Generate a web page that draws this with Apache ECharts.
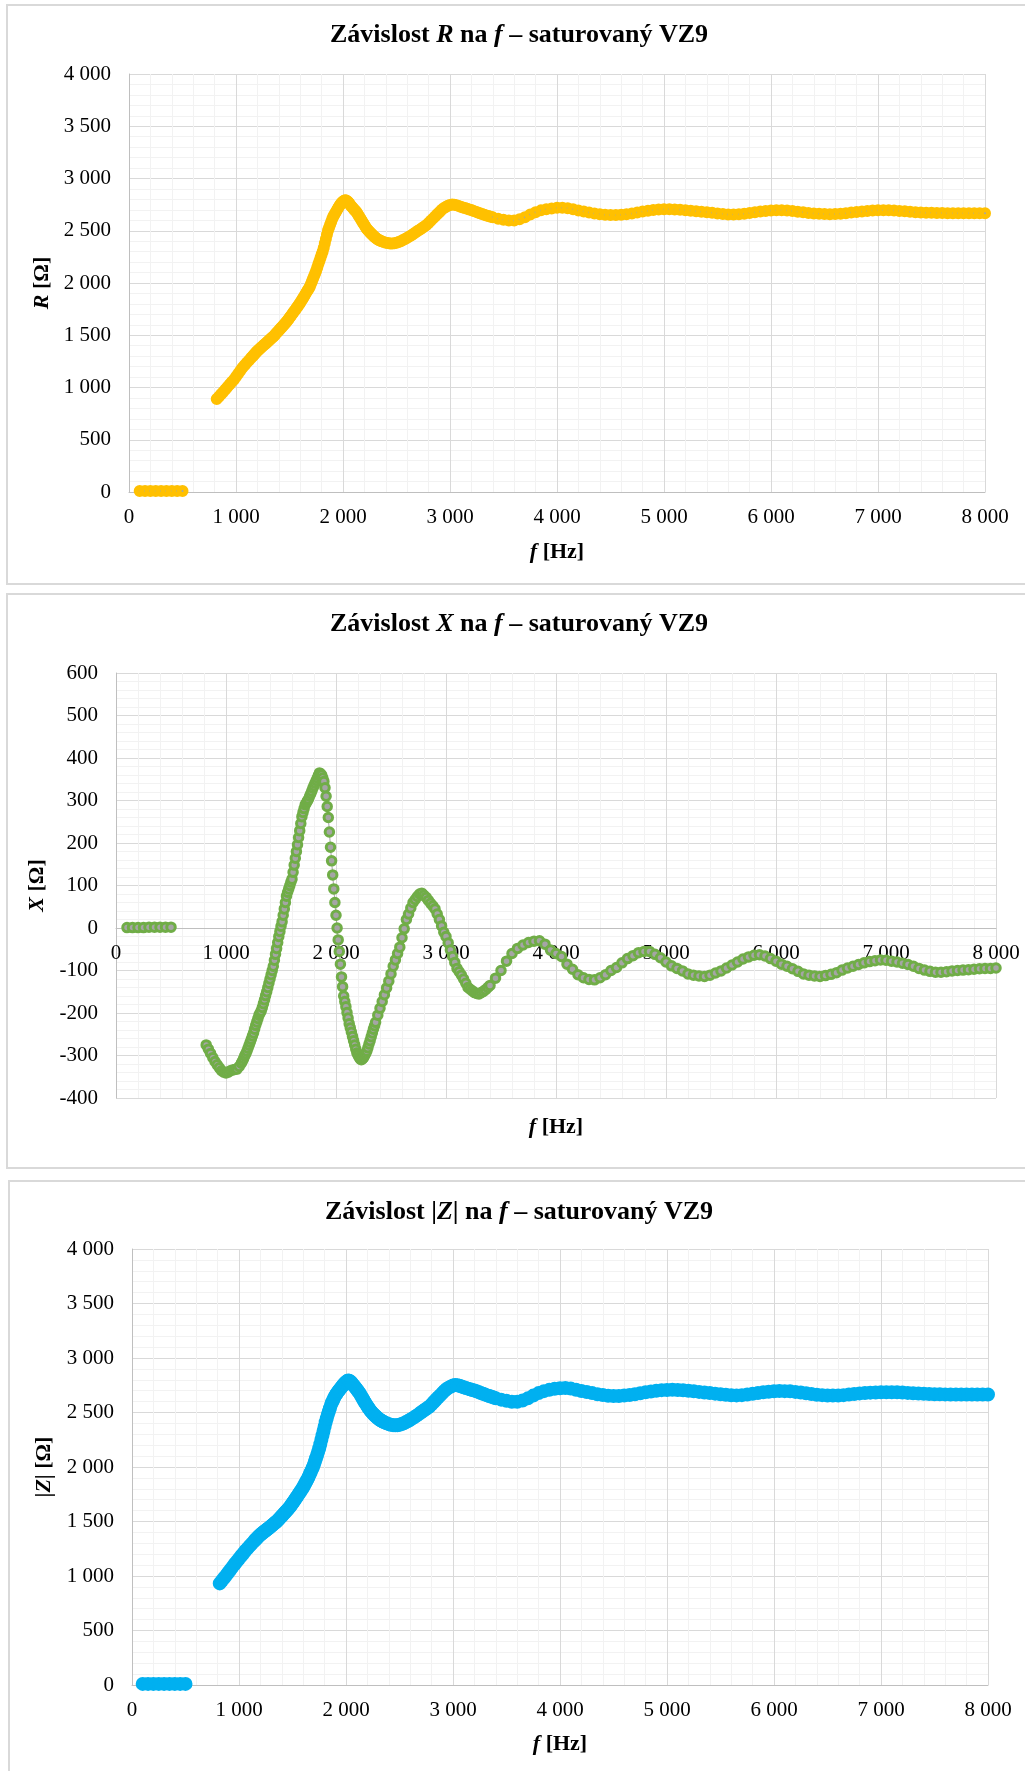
<!DOCTYPE html>
<html>
<head>
<meta charset="utf-8">
<script src="https://cdn.jsdelivr.net/npm/echarts/dist/echarts.min.js"></script>
<style>
html, body { margin: 0; padding: 0; background: #fff; }
#main { width: 1025px; height: 1771px; }
</style>
</head>
<body>
<div id="main"></div>
<script>
// 低频段 (100–500 Hz)
var lowFreq = [100, 150, 200, 250, 300, 350, 400, 450, 500];
var lowR = [10, 10, 10, 10, 10, 10, 10, 10, 10];
var lowX = [1, 1, 1, 1, 2, 2, 2, 2, 2];
var lowZ = [10, 10, 10, 10, 10, 10, 10, 10, 10];

// 主频段 f [Hz]
var freq = [
  820,840,860,880,900,920,940,960,980,1000,1020,1040,1060,1080,1100,1120,1140,
  1150,1160,1170,1180,1190,1200,1210,1220,1230,1240,
  1250,1260,1270,1280,1290,1300,1310,1320,1330,1340,
  1350,1360,1370,1380,1390,1400,1410,1420,1430,1440,
  1450,1460,1470,1480,1490,1500,1510,1520,1530,1540,
  1550,1560,1570,1580,1590,1600,1610,1620,1630,1640,
  1650,1660,1670,1680,1690,1700,1710,1720,1730,1740,
  1750,1760,1770,1780,1790,1800,1810,1820,1830,1840,
  1850,1860,1870,1880,1890,1900,1910,1920,1930,1940,
  1950,1960,1970,1980,1990,2000,2010,2020,2030,2040,
  2050,2060,2070,2080,2090,2100,2110,2120,2130,2140,
  2150,2160,2170,2180,2190,2200,2210,2220,2230,2240,
  2250,2260,2270,2280,2290,2300,2310,2320,2330,2340,
  2350,
  2360,2380,2400,2420,2440,2460,2480,2500,2520,2540,
  2560,2580,2600,2620,2640,2660,2680,2700,2720,2740,
  2760,2780,2800,2820,2840,2860,2880,2900,2920,2940,
  2960,2980,3000,3020,3040,3060,3080,3100,3120,3140,
  3160,3180,3200,3220,3240,3260,3280,3300,3320,3340,
  3360,3380,3400,
  3450,3500,3550,3600,3650,3700,3750,3800,3850,3900,
  3950,4000,4050,4100,4150,4200,4250,4300,4350,4400,
  4450,4500,4550,4600,4650,4700,4750,4800,4850,4900,
  4950,5000,5050,5100,5150,5200,5250,5300,5350,5400,
  5450,5500,5550,5600,5650,5700,5750,5800,5850,5900,
  5950,6000,6050,6100,6150,6200,6250,6300,6350,6400,
  6450,6500,6550,6600,6650,6700,6750,6800,6850,6900,
  6950,7000,7050,7100,7150,7200,7250,7300,7350,7400,
  7450,7500,7550,7600,7650,7700,7750,7800,7850,7900,
  7950,8000
];

// R [Ω]
var rVals = [
  890,912,935,957,980,1004,1028,1052,1075,1103,1132,1160,1190,1213,1236,1259,1282,
  1293,1304,1316,1327,1339,1350,1359,1368,1378,1387,
  1396,1406,1415,1424,1434,1443,1452,1461,1471,1480,
  1488,1500,1511,1523,1534,1546,1557,1569,1580,1592,
  1603,1615,1627,1639,1653,1667,1681,1695,1710,1724,
  1738,1752,1767,1781,1796,1811,1828,1845,1862,1879,
  1896,1913,1930,1947,1964,1990,2016,2042,2068,2094,
  2120,2150,2181,2211,2241,2272,2302,2338,2380,2421,
  2463,2505,2532,2559,2587,2614,2638,2656,2674,2692,
  2710,2728,2745,2758,2770,2780,2788,2793,2790,2783,
  2773,2760,2745,2733,2720,2708,2697,2687,2673,2656,
  2639,2622,2605,2588,2571,2555,2538,2522,2510,2498,
  2487,2476,2466,2456,2446,2437,2428,2421,2415,2409,
  2404,
  2399,2392,2386,2382,2379,2378,2380,2385,2392,2400,
  2411,2421,2433,2446,2458,2471,2485,2499,2513,2526,
  2540,2554,2574,2595,2616,2637,2657,2678,2698,2715,
  2728,2739,2747,2752,2750,2745,2738,2730,2723,2717,
  2710,2704,2698,2690,2683,2675,2668,2660,2653,2647,
  2640,2634,2628,
  2615,2605,2598,2597,2610,2630,2655,2678,2695,2706,
  2714,2719,2720,2716,2706,2694,2685,2675,2665,2657,
  2652,2650,2651,2654,2659,2666,2675,2684,2692,2699,
  2703,2705,2705,2704,2701,2697,2692,2687,2682,2678,
  2672,2666,2660,2656,2655,2658,2663,2670,2677,2684,
  2690,2694,2696,2695,2693,2688,2682,2676,2670,2665,
  2662,2660,2659,2660,2663,2668,2674,2680,2685,2689,
  2693,2695,2696,2695,2693,2690,2686,2682,2678,2675,
  2673,2672,2670,2669,2668,2668,2668,2668,2668,2668,
  2668,2668
];

// X [Ω]
var xVals = [
  -275,-285,-295,-305,-314,-322,-329,-336,-339,-341,-339,-336,-334,-333,-332,-326,-318,
  -313,-307,-301,-296,-290,-283,-276,-269,-262,-254,
  -247,-238,-229,-221,-213,-205,-200,-195,-187,-178,
  -169,-159,-150,-140,-130,-120,-110,-100,-90,-76,
  -62,-48,-34,-20,-8,4,15,30,45,60,
  75,84,92,100,108,115,131,148,164,180,
  196,213,229,246,262,272,281,290,294,299,
  303,310,316,322,329,335,341,347,353,359,
  365,363,360,353,345,330,310,286,260,226,
  190,158,125,92,60,30,0,-28,-55,-85,
  -115,-138,-160,-173,-185,-199,-212,-225,-235,-245,
  -255,-265,-275,-285,-294,-299,-304,-308,-310,-308,
  -305,-300,-295,-290,-282,-273,-265,-256,-247,-238,
  -230,
  -222,-205,-189,-173,-157,-141,-125,-108,-90,-75,
  -60,-45,-23,-2,20,33,47,60,67,74,
  80,82,77,72,65,58,52,45,33,20,
  5,-10,-20,-35,-52,-67,-81,-95,-103,-111,
  -120,-130,-140,-144,-148,-152,-154,-155,-152,-149,
  -145,-140,-135,
  -118,-100,-78,-60,-48,-40,-34,-31,-30,-38,
  -52,-60,-67,-85,-97,-110,-117,-121,-122,-117,
  -110,-100,-93,-82,-72,-65,-58,-55,-55,-62,
  -70,-80,-89,-95,-101,-108,-111,-113,-114,-111,
  -106,-101,-94,-87,-80,-73,-68,-64,-63,-66,
  -72,-78,-85,-90,-96,-102,-108,-111,-113,-114,
  -112,-109,-105,-99,-94,-90,-86,-82,-79,-77,
  -75,-76,-78,-80,-83,-86,-90,-95,-99,-102,
  -104,-104,-103,-101,-100,-99,-98,-97,-96,-95,
  -95,-94
];

// |Z| [Ω]
var zVals = [
  932,956,981,1006,1032,1058,1084,1110,1134,1158,1183,1207,1232,1253,1276,1297,1318,
  1330,1340,1350,1360,1370,1379,1387,1394,1403,1410,
  1418,1426,1433,1441,1450,1458,1466,1474,1483,1491,
  1498,1508,1518,1529,1540,1551,1561,1572,1583,1594,
  1604,1616,1627,1639,1653,1667,1681,1695,1711,1725,
  1740,1754,1769,1784,1799,1815,1833,1851,1869,1888,
  1908,1930,1952,1974,1996,2020,2050,2080,2110,2140,
  2172,2210,2250,2290,2330,2370,2410,2445,2480,2510,
  2540,2570,2595,2615,2635,2655,2670,2685,2698,2710,
  2722,2735,2748,2760,2771,2780,2788,2793,2791,2784,
  2775,2763,2750,2738,2726,2713,2700,2687,2672,2655,
  2638,2621,2604,2588,2572,2557,2542,2528,2515,2503,
  2492,2482,2472,2463,2454,2446,2438,2431,2425,2419,
  2414,
  2409,2401,2393,2388,2384,2382,2383,2387,2394,2401,
  2412,2421,2433,2446,2458,2471,2485,2500,2514,2527,
  2541,2555,2575,2596,2617,2638,2657,2678,2698,2715,
  2728,2739,2747,2752,2751,2746,2739,2732,2725,2719,
  2713,2707,2702,2694,2687,2679,2672,2664,2657,2651,
  2644,2638,2631,
  2618,2607,2599,2598,2610,2630,2655,2678,2696,2708,
  2717,2723,2725,2720,2709,2697,2688,2678,2668,2660,
  2654,2652,2652,2655,2660,2667,2676,2685,2693,2700,
  2705,2707,2708,2707,2704,2699,2694,2689,2684,2679,
  2673,2667,2662,2658,2657,2659,2664,2671,2678,2685,
  2691,2695,2697,2696,2694,2689,2683,2676,2669,2663,
  2659,2656,2655,2656,2659,2664,2670,2675,2679,2682,
  2684,2685,2686,2686,2685,2683,2680,2677,2674,2671,
  2669,2668,2667,2666,2665,2665,2665,2665,2665,2665,
  2665,2665
];

(function () {
    var FONT = 'Liberation Serif';
    var chart = echarts.init(document.getElementById('main'));

    // 千位用空格分隔
    function fmt(v) {
        return String(v).replace(/\B(?=(\d{3})+(?!\d))/g, ' ');
    }
    function pairs(xs, ys) {
        return xs.map(function (x, i) { return [x, ys[i]]; });
    }

    var titleRich = {
        a: { fontFamily: FONT, fontSize: 26, fontWeight: 'bold', color: '#000' },
        i: { fontFamily: FONT, fontSize: 26, fontWeight: 'bold', fontStyle: 'italic', color: '#000' }
    };
    var nameRich = {
        a: { fontFamily: FONT, fontSize: 22, fontWeight: 'bold', color: '#000' },
        i: { fontFamily: FONT, fontSize: 22, fontWeight: 'bold', fontStyle: 'italic', color: '#000' }
    };
    var labelStyle = { color: '#000', fontFamily: FONT, fontSize: 21, formatter: fmt };

    function makeTitle(text, top) {
        return {
            text: text, left: 519, top: top, textAlign: 'center', padding: 0,
            textStyle: { rich: titleRich }
        };
    }

    // offset: 负值把坐标轴上移 (图2的0线)
    function makeX(g, gap, offset) {
        return {
            type: 'value', gridIndex: g, min: 0, max: 8000, interval: 1000,
            position: 'bottom', offset: offset || 0,
            name: '{i|f}{a| [Hz]}', nameLocation: 'middle', nameGap: gap,
            nameTextStyle: { rich: nameRich },
            axisLine: { show: true, onZero: false, lineStyle: { color: '#bfbfbf', width: 1 } },
            axisTick: { show: false },
            axisLabel: Object.assign({ margin: 15 }, labelStyle),
            splitLine: { show: true, lineStyle: { color: '#d9d9d9', width: 1 } },
            minorTick: { show: false, splitNumber: 5 },
            minorSplitLine: { show: true, lineStyle: { color: '#f2f2f2', width: 1 } }
        };
    }

    function makeY(g, min, max, interval, name, gap) {
        return {
            type: 'value', gridIndex: g, min: min, max: max, interval: interval,
            name: name, nameLocation: 'middle', nameGap: gap,
            nameTextStyle: { rich: nameRich },
            axisLine: { show: true, onZero: false, lineStyle: { color: '#bfbfbf', width: 1 } },
            axisTick: { show: false },
            axisLabel: Object.assign({ margin: 18 }, labelStyle),
            splitLine: { show: true, lineStyle: { color: '#d9d9d9', width: 1 } },
            minorTick: { show: false, splitNumber: 5 },
            minorSplitLine: { show: true, lineStyle: { color: '#f2f2f2', width: 1 } }
        };
    }

    function makeSeries(g, data, size, fill, border, bw) {
        return {
            type: 'line', xAxisIndex: g, yAxisIndex: g, data: data,
            symbol: 'circle', symbolSize: size, showSymbol: true, clip: false,
            lineStyle: { color: '#a5a5a5', width: 1 },
            itemStyle: { color: fill, borderColor: border, borderWidth: bw },
            emphasis: { disabled: true },
            animation: false
        };
    }

    var frame = { stroke: '#d9d9d9', fill: 'none', lineWidth: 2 };

    var option = {
        animation: false,
        backgroundColor: '#fff',
        title: [
            makeTitle('{a|Závislost }{i|R}{a| na }{i|f}{a| – saturovaný VZ9}', 22),
            makeTitle('{a|Závislost }{i|X}{a| na }{i|f}{a| – saturovaný VZ9}', 611),
            makeTitle('{a|Závislost |}{i|Z}{a|| na }{i|f}{a| – saturovaný VZ9}', 1199)
        ],
        graphic: [
            { type: 'rect', shape: { x: 7, y: 5, width: 1040, height: 579 }, style: frame, silent: true },
            { type: 'rect', shape: { x: 7, y: 594, width: 1040, height: 574 }, style: frame, silent: true },
            { type: 'rect', shape: { x: 9, y: 1181, width: 1040, height: 620 }, style: frame, silent: true }
        ],
        grid: [
            { left: 129, top: 74, width: 856, height: 418 },
            { left: 116, top: 673, width: 880, height: 425 },
            { left: 132, top: 1249, width: 856, height: 436 }
        ],
        xAxis: [makeX(0, 49), makeX(1, 188, -170), makeX(2, 48)],
        yAxis: [
            makeY(0, 0, 4000, 500, '{i|R}{a| [Ω]}', 74),
            makeY(1, -400, 600, 100, '{i|X}{a| [Ω]}', 59),
            makeY(2, 0, 4000, 500, '{a||}{i|Z}{a|| [Ω]}', 77)
        ],
        series: [
            makeSeries(0, pairs(lowFreq, lowR), 7, '#a5a5a5', '#ffc000', 5),
            makeSeries(0, pairs(freq, rVals), 7, '#a5a5a5', '#ffc000', 5),
            makeSeries(1, pairs(lowFreq, lowX), 8.5, '#a5a5a5', '#70ad47', 3),
            makeSeries(1, pairs(freq, xVals), 8.5, '#a5a5a5', '#70ad47', 3),
            makeSeries(2, pairs(lowFreq, lowZ), 12, '#00b0f0', '#00b0f0', 2),
            makeSeries(2, pairs(freq, zVals), 12, '#00b0f0', '#00b0f0', 2)
        ]
    };
    chart.setOption(option);
    window.addEventListener('resize', function () {
        chart.resize();
    });
})();
</script>
</body>
</html>
